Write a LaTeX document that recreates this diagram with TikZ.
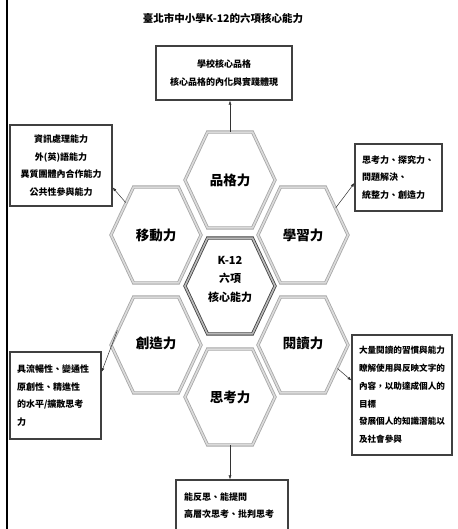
\documentclass[tikz,border=0pt]{standalone}
\usepackage{fontspec}
\setmainfont{Noto Sans CJK TC}
\usetikzlibrary{shapes.geometric,arrows.meta}

\begin{document}
\begin{tikzpicture}[x=1pt,y=-1pt,
        hex cell/.style={regular polygon,regular polygon sides=6,minimum size=90pt,inner sep=0pt,
            yscale=1.23,transform shape,draw=gray!70,double=gray!28,double distance=1.6pt,line width=0.8pt},
        hub cell/.style={hex cell,draw=black!75,double=gray!55},
        hex label/.style={font=\fontsize{13.5}{16}\selectfont\bfseries},
        note box/.style={draw=black!75,line width=1.1pt,inner xsep=7pt,inner ysep=0pt,
            font=\fontsize{9}{17.7}\selectfont\bfseries},
        link/.style={-{Latex[length=4pt,width=3pt]},black!80,line width=0.5pt}]

    \clip (0,0) rectangle (457,529);
    \draw[line width=2pt] (7,0) -- (7,529);

    \node[font=\fontsize{10.5}{12}\selectfont\bfseries] (title) at (223,18) {臺北市中小學K-12的六項核心能力};

    % the six cells round the hub
    \node[hub cell] (hub) at (230,286) {};
    \node[hex cell] (pin) at (230,180) {};
    \node[hex cell] (lrn) at (303,235) {};
    \node[hex cell] (rd) at (303,345) {};
    \node[hex cell] (thk) at (230,397) {};
    \node[hex cell] (crt) at (156,345) {};
    \node[hex cell] (mob) at (156,235) {};

    \node[font=\fontsize{11}{18.5}\selectfont\bfseries, align=center] (hub-t) at (230,279) {K-12\\六項\\核心能力};
    \node[hex label] (pin-t) at (pin) {品格力};
    \node[hex label] (lrn-t) at (lrn) {學習力};
    \node[hex label] (rd-t) at (303,343) {閱讀力};
    \node[hex label] (thk-t) at (thk) {思考力};
    \node[hex label] (crt-t) at (156,343) {創造力};
    \node[hex label] (mob-t) at (mob) {移動力};

    % notes
    \node[note box, minimum width=136pt, minimum height=54pt, align=center] (pinbox) at (224,73)
        {學校核心品格\\核心品格的內化與實踐體現};
    \node[note box, minimum width=87pt, minimum height=67pt, text width=73pt, align=left] (lrnbox) at (398.5,177.5)
        {思考力、探究力、\\問題解決、\\統整力、創造力};
    \node[note box, minimum width=100pt, minimum height=120pt, text width=86pt, align=left,
        font=\fontsize{8.6}{17.7}\selectfont\bfseries] (rdbox) at (402,395)
        {大量閱讀的習慣與能力\\瞭解使用與反映文字的\\內容，以助達成個人的\\目標\\發展個人的知識潛能以\\及社會參與};
    \node[note box, minimum width=112pt, minimum height=51pt, text width=96pt, align=left] (thkbox) at (232,505.5)
        {能反思、能提問\\高層次思考、批判思考};
    \node[note box, minimum width=91pt, minimum height=87pt, text width=77pt, align=left] (crtbox) at (55.5,395.5)
        {具流暢性、變通性\\原創性、精進性\\的水平/擴散思考\\力};
    \node[note box, minimum width=102pt, minimum height=81pt, inner xsep=0pt, align=center] (mobbox) at (61,165.5)
        {資訊處理能力\\外(英)語能力\\異質團體內合作能力\\公共性參與能力};

    \draw[link] (pin.north) -- (pin.north |- pinbox.south);
    \draw[link] (lrn.34) -- (lrnbox.187);
    \draw[link] (rd.-29) -- (rdbox.164);
    \draw[link] (thk.south) -- (thk.south |- thkbox.north);
    \draw[link] (crt.163) -- (crtbox.27);
    \draw[link] (mob.139) -- (mobbox.-23);

\end{tikzpicture}
\end{document}
